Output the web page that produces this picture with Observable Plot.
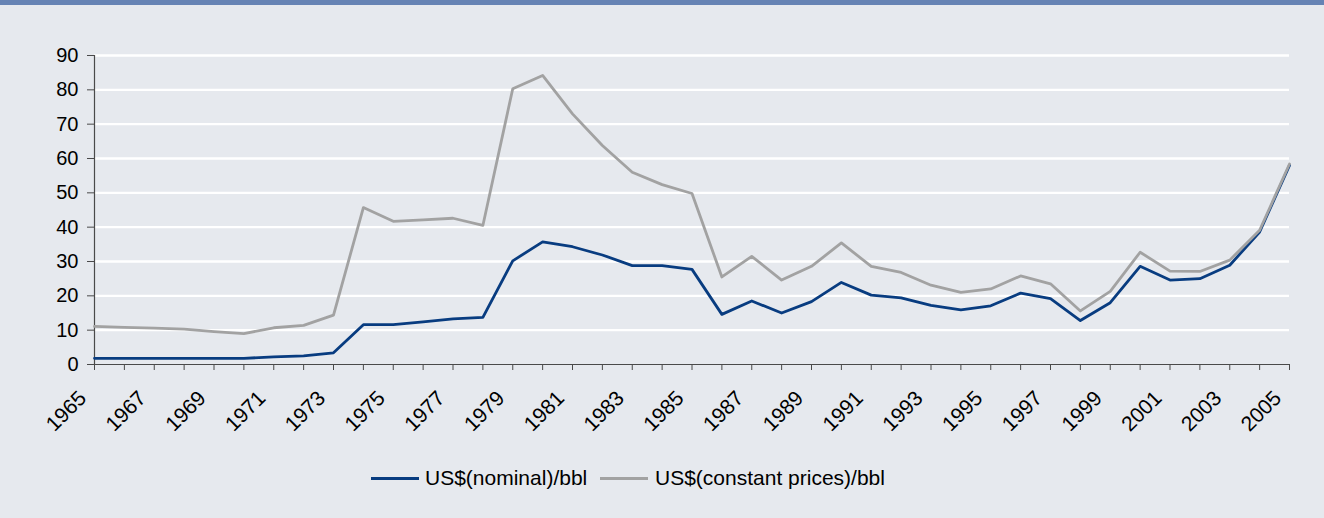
<!DOCTYPE html>
<html>
<head>
<meta charset="utf-8">
<script src="https://cdn.jsdelivr.net/npm/d3@7"></script>
<script src="https://cdn.jsdelivr.net/npm/@observablehq/plot@0.6"></script>
<style>
  html, body { margin: 0; padding: 0; }
  body {
    width: 1324px; height: 518px; background: #e6e9ee; position: relative; overflow: hidden;
    font-family: "Liberation Sans", Arial, sans-serif; color: #000;
  }
  #bar { position: absolute; left: 0; top: 0; width: 1324px; height: 5px; background: #6683b4; }
  #chart { position: absolute; left: 0; top: 5px; }
  .sw { position: absolute; height: 3px; width: 48px; top: 476.5px; }
  .lt { position: absolute; top: 466.4px; font-size: 21px; line-height: 24px; white-space: nowrap; }
</style>
</head>
<body>
<div id="bar"></div>
<div id="chart"></div>
<div id="legend"></div>
<script>
// ---- data ----
const years = [1965,1966,1967,1968,1969,1970,1971,1972,1973,1974,1975,1976,1977,1978,1979,1980,
  1981,1982,1983,1984,1985,1986,1987,1988,1989,1990,1991,1992,1993,1994,1995,1996,1997,1998,1999,
  2000,2001,2002,2003,2004,2005];
const nominal = [1.8,1.8,1.8,1.8,1.8,1.8,2.2,2.5,3.4,11.6,11.6,12.4,13.3,13.7,30.2,35.7,
  34.3,31.9,28.8,28.8,27.7,14.6,18.5,15.0,18.3,23.9,20.2,19.4,17.2,15.9,17.1,20.8,19.2,12.8,18.0,
  28.6,24.6,25.0,28.9,38.6,58.0];
const constant = [11.1,10.8,10.6,10.3,9.6,9.0,10.7,11.4,14.4,45.7,41.7,42.1,42.6,40.5,80.3,84.2,
  73.0,63.8,56.0,52.4,49.8,25.5,31.5,24.6,28.6,35.4,28.6,26.8,23.1,21.0,22.0,25.8,23.5,15.6,21.3,
  32.7,27.2,27.1,30.4,39.1,58.4];
const seriesNames = ["US$(nominal)/bbl", "US$(constant prices)/bbl"];
const seriesColors = ["#083c80", "#a2a2a2"];
const yTicks = [0,10,20,30,40,50,60,70,80,90];
const labelYears = [1965,1967,1969,1971,1973,1975,1977,1979,1981,1983,1985,1987,1989,1991,1993,
  1995,1997,1999,2001,2003,2005];

// ---- table ----
const rows = [
  ...years.map((y, i) => ({year: y, value: nominal[i], series: seriesNames[0]})),
  ...years.map((y, i) => ({year: y, value: constant[i], series: seriesNames[1]}))
];

const axisColor = "#4a4a4a";
const chart = Plot.plot({
  width: 1324,
  height: 455,
  marginLeft: 94,
  marginRight: 35,
  marginTop: 50,
  marginBottom: 96,
  style: {background: "transparent", fontFamily: "'Liberation Sans', Arial, sans-serif", fontSize: "20px", color: "#000", overflow: "visible"},
  x: {type: "linear", domain: [1965, 2005]},
  y: {domain: [0, 90]},
  color: {domain: seriesNames, range: seriesColors},
  marks: [
    Plot.ruleY(yTicks.filter(d => d > 0), {stroke: "#ffffff", strokeWidth: 2.3}),
    Plot.axisY(yTicks, {tickSize: 7, tickPadding: 9, stroke: axisColor, fill: "#000", fontSize: 20, label: null, tickFormat: d => String(d)}),
    Plot.axisX(years, {tickSize: 6, tickFormat: () => "", stroke: axisColor, label: null}),
    Plot.axisX(labelYears, {tickSize: 0, tickRotate: -45, tickPadding: 35, dx: -7, textAnchor: "end", lineAnchor: "bottom",
      tickFormat: d => String(d), fill: "#000", fontSize: 21, label: null}),
    Plot.ruleX([1965], {stroke: axisColor, strokeWidth: 1.2}),
    Plot.ruleY([0], {stroke: axisColor, strokeWidth: 1.2}),
    Plot.line(rows, {x: "year", y: "value", z: "series", stroke: "series", strokeWidth: 2.8})
  ]
});
document.getElementById("chart").appendChild(chart);

// ---- legend ----
const legend = document.getElementById("legend");
const swLeft = [371, 600];
const txLeft = [425, 655];
seriesNames.forEach((name, i) => {
  const sw = document.createElement("div");
  sw.className = "sw";
  sw.style.left = swLeft[i] + "px";
  sw.style.background = seriesColors[i];
  legend.appendChild(sw);
  const t = document.createElement("div");
  t.className = "lt";
  t.style.left = txLeft[i] + "px";
  t.textContent = name;
  legend.appendChild(t);
});
</script>
</body>
</html>
